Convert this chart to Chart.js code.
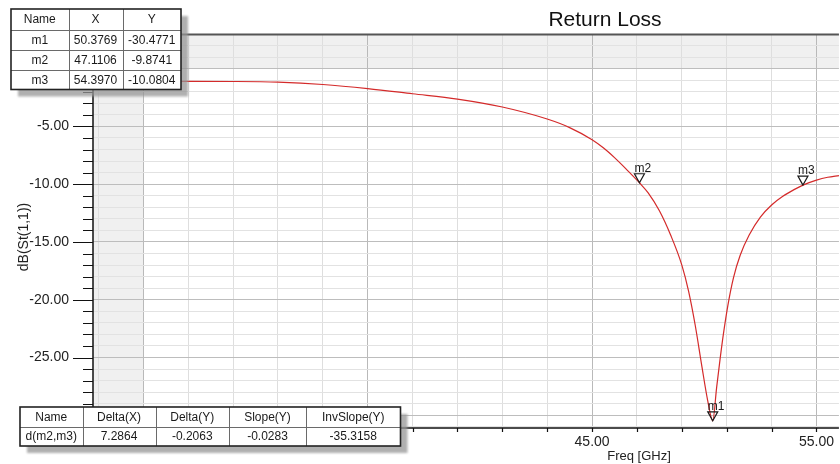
<!DOCTYPE html>
<html>
<head>
<meta charset="utf-8">
<title>Return Loss</title>
<script src="https://cdn.jsdelivr.net/npm/chart.js@4.4.1/dist/chart.umd.min.js"></script>
<style>
  html, body { margin: 0; padding: 0; background: #ffffff; }
  #wrap { position: relative; width: 840px; height: 464px; }
</style>
</head>
<body>
<div id="wrap"><canvas id="rl"></canvas></div>
<script>
// S11 sweep (GHz, dB)
const freqGHz = [25, 27, 29, 31, 33, 35, 37, 39, 41, 43, 44, 45, 45.5, 46, 46.5, 47, 47.1106, 47.5, 48,
  48.5, 49, 49.3, 49.6, 49.9, 50.15, 50.3769, 50.55, 50.7, 50.85, 51.05, 51.3, 51.6, 52.0, 52.5,
  53.0, 53.5, 54.0, 54.397, 55.0, 55.5, 56.0];
const s11dB = [-1.10, -1.10, -1.11, -1.17, -1.37, -1.72, -2.17, -2.63, -3.32, -4.36, -5.10, -6.15, -6.85,
  -7.70, -8.65, -9.65, -9.8741, -10.75, -12.30, -14.40, -17.00, -19.25, -22.25, -25.85, -28.70,
  -30.4771, -27.60, -25.20, -23.00, -20.50, -18.10, -16.15, -14.40, -12.85, -11.80, -11.05, -10.47,
  -10.0804, -9.65, -9.40, -9.25];

// markers
const markerNames = ['m1', 'm2', 'm3'];
const markerFreq = [50.3769, 47.1106, 54.3970];
const markerDb = [-30.4771, -9.8741, -10.0804];

// delta readout for d(m2,m3)
const deltaHeaders = ['Name', 'Delta(X)', 'Delta(Y)', 'Slope(Y)', 'InvSlope(Y)'];
const deltaValues = ['d(m2,m3)', '7.2864', '-0.2063', '-0.0283', '-35.3158'];

// axis ticks
const xTickValues = [23, 25, 27, 29, 31, 33, 35, 37, 39, 41, 43, 45, 47, 49, 51, 53, 55];
const xLabelValues = [25, 35, 45, 55];
const yTickValues = [3, 2, 1, 0, -1, -2, -3, -4, -5, -6, -7, -8, -9, -10, -11, -12, -13, -14, -15, -16,
  -17, -18, -19, -20, -21, -22, -23, -24, -25, -26, -27, -28, -29, -30, -31];
const yLabelValues = [0, -5, -10, -15, -20, -25, -30];

const FONT = '"Liberation Sans", Arial, sans-serif';

function drawTable(ctx, x, y, colX, rowY, rows) {
  const w = colX[colX.length - 1] - x;
  const h = rowY[rowY.length - 1] - y;
  ctx.save();
  ctx.fillStyle = 'rgba(150,150,150,0.75)';
  ctx.filter = 'blur(1px)';
  ctx.fillRect(x + 7, y + 7, w, h);
  ctx.filter = 'none';
  ctx.fillStyle = '#ffffff';
  ctx.fillRect(x, y, w, h);
  ctx.strokeStyle = '#6a6a6a';
  ctx.lineWidth = 1;
  ctx.beginPath();
  for (let i = 1; i < colX.length - 1; i++) {
    ctx.moveTo(Math.round(colX[i]) + 0.5, y);
    ctx.lineTo(Math.round(colX[i]) + 0.5, y + h);
  }
  for (let j = 1; j < rowY.length - 1; j++) {
    ctx.moveTo(x, Math.round(rowY[j]) + 0.5);
    ctx.lineTo(x + w, Math.round(rowY[j]) + 0.5);
  }
  ctx.stroke();
  ctx.strokeStyle = '#222222';
  ctx.lineWidth = 1.6;
  ctx.strokeRect(x, y, w, h);
  ctx.fillStyle = '#1a1a1a';
  ctx.font = '12px ' + FONT;
  ctx.textAlign = 'center';
  ctx.textBaseline = 'middle';
  rows.forEach((row, j) => {
    const cy = (rowY[j] + rowY[j + 1]) / 2 + 0.5;
    row.forEach((txt, i) => {
      const cx = i === 0 ? (x + colX[1]) / 2 : (colX[i] + colX[i + 1]) / 2;
      ctx.fillText(txt, cx, cy);
    });
  });
  ctx.restore();
}

const decorations = {
  id: 'decorations',
  beforeDraw(chart) {
    const { ctx, chartArea: a, scales: { x, y } } = chart;
    ctx.save();
    ctx.fillStyle = '#f0f0f0';
    // region above 0 dB and below the sweep start
    const y0 = y.getPixelForValue(0);
    ctx.fillRect(a.left, a.top, a.right - a.left, y0 - a.top);
    const x0 = x.getPixelForValue(freqGHz[0]);
    ctx.fillRect(a.left, a.top, x0 - a.left, a.bottom - a.top);
    ctx.restore();
  },
  afterDatasetsDraw(chart) {
    const { ctx, chartArea: a, scales: { x, y } } = chart;
    ctx.save();
    // axes frame
    ctx.strokeStyle = '#555555';
    ctx.lineWidth = 2;
    ctx.beginPath();
    ctx.moveTo(a.left, a.top + 0.5);
    ctx.lineTo(a.right, a.top + 0.5);
    ctx.stroke();
    ctx.strokeStyle = '#111111';
    ctx.lineWidth = 1.5;
    ctx.beginPath();
    ctx.moveTo(a.left, a.top);
    ctx.lineTo(a.left, a.bottom);
    ctx.lineTo(a.right, a.bottom);
    ctx.stroke();
    // tick marks
    ctx.lineWidth = 1.2;
    ctx.beginPath();
    y.ticks.forEach(t => {
      const py = Math.round(y.getPixelForValue(t.value)) + 0.5;
      const len = t.value % 5 === 0 ? 20 : 10;
      ctx.moveTo(a.left - len, py);
      ctx.lineTo(a.left, py);
    });
    x.ticks.forEach(t => {
      const px = Math.round(x.getPixelForValue(t.value)) + 0.5;
      ctx.moveTo(px, a.bottom);
      ctx.lineTo(px, a.bottom + 4);
    });
    ctx.stroke();

    // markers: open triangles pointing at the trace
    ctx.font = '12px ' + FONT;
    ctx.textAlign = 'left';
    ctx.textBaseline = 'alphabetic';
    markerNames.forEach((name, i) => {
      const px = x.getPixelForValue(markerFreq[i]);
      const py = y.getPixelForValue(markerDb[i]);
      ctx.strokeStyle = '#1a1a1a';
      ctx.lineWidth = 1.2;
      ctx.beginPath();
      ctx.moveTo(px, py);
      ctx.lineTo(px - 5, py - 9);
      ctx.lineTo(px + 5, py - 9);
      ctx.closePath();
      ctx.stroke();
      ctx.fillStyle = '#1a1a1a';
      ctx.fillText(name, px - 5, py - 11);
    });
    ctx.restore();
  },
  afterDraw(chart) {
    const { ctx } = chart;
    ctx.save();
    // title and axis titles
    ctx.fillStyle = '#111111';
    ctx.textAlign = 'center';
    ctx.textBaseline = 'alphabetic';
    ctx.font = '21px ' + FONT;
    ctx.fillText('Return Loss', 605, 26);
    ctx.fillStyle = '#222222';
    ctx.font = '13px ' + FONT;
    ctx.fillText('Freq [GHz]', 639, 460);
    ctx.save();
    ctx.translate(28, 237);
    ctx.rotate(-Math.PI / 2);
    ctx.font = '14px ' + FONT;
    ctx.fillText('dB(St(1,1))', 0, 0);
    ctx.restore();

    // marker readout
    const mRows = [['Name', 'X', 'Y']];
    markerNames.forEach((n, i) => mRows.push([n, markerFreq[i].toFixed(4), markerDb[i].toFixed(4)]));
    drawTable(ctx, 11, 9, [11, 68.5, 122.5, 181], [9, 30, 50, 70, 89.5], mRows);
    // delta readout
    drawTable(ctx, 20, 407, [20, 82.5, 155.5, 229, 306, 400.5], [407, 426.5, 446], [deltaHeaders, deltaValues]);
    ctx.restore();
  }
};

new Chart(document.getElementById('rl'), {
  type: 'line',
  data: {
    datasets: [{
      label: 'dB(St(1,1))',
      data: freqGHz.map((f, i) => ({ x: f, y: s11dB[i] })),
      borderColor: '#d42a2a',
      borderWidth: 1.2,
      pointRadius: 0,
      cubicInterpolationMode: 'monotone',
      fill: false
    }]
  },
  options: {
    responsive: true,
    maintainAspectRatio: false,
    animation: false,
    layout: { padding: { top: 34, left: 0, right: 0, bottom: 0 } },
    plugins: { legend: { display: false }, title: { display: false }, tooltip: { enabled: false } },
    scales: {
      x: {
        type: 'linear',
        min: 22.76,
        max: 56.0,
        afterBuildTicks: s => { s.ticks = xTickValues.map(v => ({ value: v })); },
        afterFit: s => { s.height = 36; },
        grid: {
          drawTicks: false,
          color: c => xLabelValues.includes(c.tick && c.tick.value) ? '#b9b9b9' : '#dedede',
          lineWidth: 1
        },
        border: { display: false },
        ticks: {
          autoSkip: false,
          maxRotation: 0,
          padding: 6,
          color: '#222222',
          font: { family: FONT, size: 14 },
          callback: v => xLabelValues.includes(v) ? v.toFixed(2) : ''
        }
      },
      y: {
        type: 'linear',
        min: -31.1,
        max: 3.0,
        afterBuildTicks: s => { s.ticks = yTickValues.map(v => ({ value: v })); },
        afterFit: s => { s.width = 93; },
        grid: {
          drawTicks: false,
          color: c => (c.tick && c.tick.value % 5 === 0) ? '#bdbdbd' : '#e2e2e2',
          lineWidth: 1
        },
        border: { display: false },
        ticks: {
          autoSkip: false,
          padding: 24,
          color: '#222222',
          font: { family: FONT, size: 14 },
          callback: v => yLabelValues.includes(v) ? v.toFixed(2) : ''
        }
      }
    }
  },
  plugins: [decorations]
});
</script>
</body>
</html>
